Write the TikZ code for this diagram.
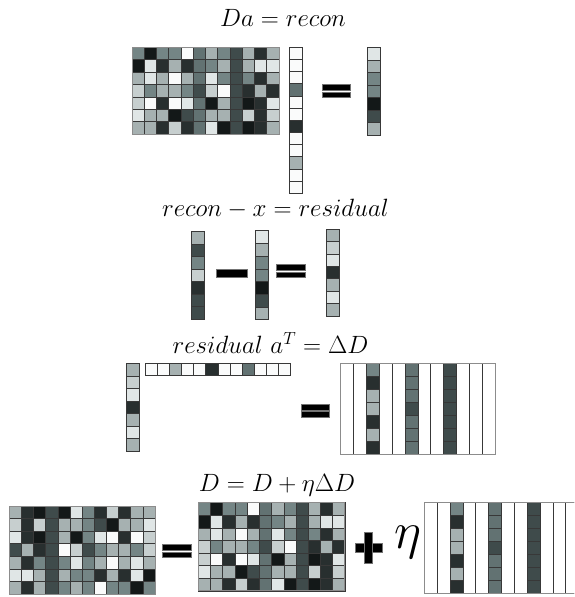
\RequirePackage{fix-cm}
\documentclass[tikz,border=0pt]{standalone}

% grey levels used for the cells (slightly cool tint)
\definecolor{g0}{HTML}{FAFBFB}
\definecolor{g1}{HTML}{E0E6E6}
\definecolor{g2}{HTML}{C7CFCF}
\definecolor{g3}{HTML}{A6B1B1}
\definecolor{g4}{HTML}{748585}
\definecolor{g5}{HTML}{627272}
\definecolor{g6}{HTML}{3F4B4B}
\definecolor{g7}{HTML}{282F2F}
\definecolor{g8}{HTML}{131818}

\tikzset{
  cellline/.style={draw=black!78, line width=0.6pt},
  frameline/.style={draw=black!45, line width=0.9pt},
  bar/.style={fill=black, draw=black!55, line width=0.4pt},
  title/.style={font=\fontsize{25}{30}\selectfont, inner sep=0pt, anchor=base},
}

% matrix of cells: x, y (top left), cell width, cell height, rows of colours
\newcommand\cellgrid[5]{%
  \foreach \row [count=\i from 0] in {#5} {
    \foreach \c [count=\j from 0] in \row {
      \filldraw[cellline, fill=\c] ({#1+\j*#3},{#2+\i*#4}) rectangle ++(#3,#4);
    }
  }
}
% column vector: x, y, cell width, cell height, colours top to bottom
\newcommand\vcol[5]{%
  \foreach \c [count=\i from 0] in {#5} {
    \filldraw[cellline, fill=\c] (#1,{#2+\i*#4}) rectangle ++(#3,#4);
  }
}
% row vector: x, y, cell width, cell height, colours left to right
\newcommand\hrow[5]{%
  \foreach \c [count=\j from 0] in {#5} {
    \filldraw[cellline, fill=\c] ({#1+\j*#3},#2) rectangle ++(#3,#4);
  }
}
% update matrix: twelve columns, three of them filled
\newcommand\deltagrid[4]{%
  \foreach \j in {0,...,11} {
    \filldraw[cellline, fill=white] ({#1+\j*#3},#2) rectangle ++(#3,{7*#4});
  }
  \vcol{#1+2*#3}{#2}{#3}{#4}{g4,g7,g3,g3,g7,g3,g7}
  \vcol{#1+5*#3}{#2}{#3}{#4}{g5,g5,g5,g6,g5,g5,g5}
  \vcol{#1+8*#3}{#2}{#3}{#4}{g6,g6,g6,g6,g6,g6,g6}
}
% equals sign: left, right, top of upper bar
\newcommand\eqsign[3]{%
  \filldraw[bar] (#1,#3) rectangle (#2,{#3+5.7});
  \filldraw[bar] (#1,{#3+7.4}) rectangle (#2,{#3+13});
}

\begin{document}
\begin{tikzpicture}[x=1pt,y=-1pt]
\useasboundingbox (0,0) rectangle (574,597);
\clip (0,0) rectangle (574,597);

% ---- D a = recon
\node[title] (t1) at (283,26) {$Da = recon$};
\cellgrid{132}{47.3}{12.25}{12.4}{
  {g4,g8,g4,g4,g0,g5,g3,g4,g6,g3,g7,g3},
  {g8,g1,g7,g3,g7,g5,g4,g3,g6,g3,g1,g1},
  {g3,g1,g3,g0,g3,g5,g1,g4,g6,g4,g7,g3},
  {g2,g4,g3,g3,g4,g6,g2,g0,g6,g7,g3,g7},
  {g2,g0,g7,g0,g1,g5,g8,g3,g6,g8,g7,g1},
  {g1,g3,g3,g8,g6,g5,g3,g3,g6,g2,g7,g2},
  {g3,g3,g7,g2,g7,g5,g1,g8,g6,g8,g7,g3}}
\draw[frameline] (132,47.3) rectangle (279,134.1);
\vcol{289}{47.3}{13}{12.15}{g0,g0,g0,g5,g0,g0,g7,g0,g0,g3,g0,g0}
\eqsign{321.7}{350.3}{84.3}
\vcol{367.3}{47.3}{12.7}{12.5}{g1,g3,g4,g4,g8,g6,g3}

% ---- recon - x = residual
\node[title] (t2) at (275.5,216.7) {$recon - x = residual$};
\vcol{191}{231.7}{13}{12.5}{g3,g6,g4,g2,g7,g6,g6}
\filldraw[bar] (215.7,268.7) rectangle (246.7,276.7);
\vcol{255}{230.7}{13}{12.7}{g1,g3,g4,g4,g8,g6,g3}
\eqsign{276}{305}{264.3}
\vcol{326.7}{229}{12.3}{12.4}{g3,g2,g1,g7,g3,g1,g3}

% ---- residual a^T = Delta D
\node[title] (t3) at (270.5,353.3) {$residual\ a^T = \Delta D$};
\vcol{126.7}{363.3}{12.6}{12.5}{g3,g2,g1,g7,g3,g1,g3}
\hrow{145}{363.3}{12.14}{12.4}{g0,g0,g3,g0,g0,g7,g0,g0,g5,g0,g0,g0}
\eqsign{300.7}{329.3}{404}
\deltagrid{340.7}{363.3}{12.86}{13}
\draw[frameline] (340.7,363.3) rectangle (495,454.3);

% ---- D = D + eta Delta D
\node[title] (t4) at (277,491) {$D = D + \eta\Delta D$};
\cellgrid{9.3}{506}{12.14}{12.57}{
  {g3,g7,g8,g6,g8,g1,g4,g7,g2,g7,g3,g3},
  {g2,g7,g2,g6,g3,g3,g4,g6,g8,g3,g3,g1},
  {g1,g7,g8,g6,g3,g8,g4,g1,g0,g7,g0,g2},
  {g6,g3,g7,g6,g0,g2,g6,g4,g3,g3,g4,g2},
  {g3,g7,g4,g6,g4,g1,g4,g3,g0,g3,g1,g3},
  {g1,g1,g3,g6,g3,g4,g4,g7,g3,g7,g1,g8},
  {g3,g7,g3,g6,g4,g3,g4,g0,g4,g4,g8,g4}}
\draw[frameline] (9.3,506) rectangle (155,594);
\eqsign{162.3}{190.7}{544.3}
\cellgrid{198.3}{502.7}{12.22}{12.6}{
  {g4,g8,g4,g4,g0,g5,g3,g4,g6,g3,g7,g3},
  {g8,g1,g7,g3,g7,g5,g4,g3,g6,g3,g1,g1},
  {g3,g1,g3,g0,g3,g5,g1,g4,g6,g4,g7,g3},
  {g2,g4,g3,g3,g4,g6,g2,g0,g6,g7,g3,g7},
  {g2,g0,g7,g0,g1,g5,g8,g3,g6,g8,g7,g1},
  {g1,g3,g3,g8,g6,g5,g3,g3,g6,g2,g7,g2},
  {g3,g3,g7,g2,g7,g5,g1,g8,g6,g8,g7,g3}}
\draw[frameline] (198.3,502.7) rectangle (344.9,590.9);
% plus sign
\filldraw[bar] (355,543) rectangle (382,552);
\filldraw[bar] (364.5,531.7) rectangle (372.5,563.3);
\node[font=\fontsize{52}{60}\selectfont, inner sep=0pt, anchor=base] (eta) at (407.5,548) {$\eta$};
\deltagrid{424.3}{502.7}{12.86}{12.94}
\draw[frameline] (424.3,502.7) rectangle (578.6,593.3);
\end{tikzpicture}
\end{document}
